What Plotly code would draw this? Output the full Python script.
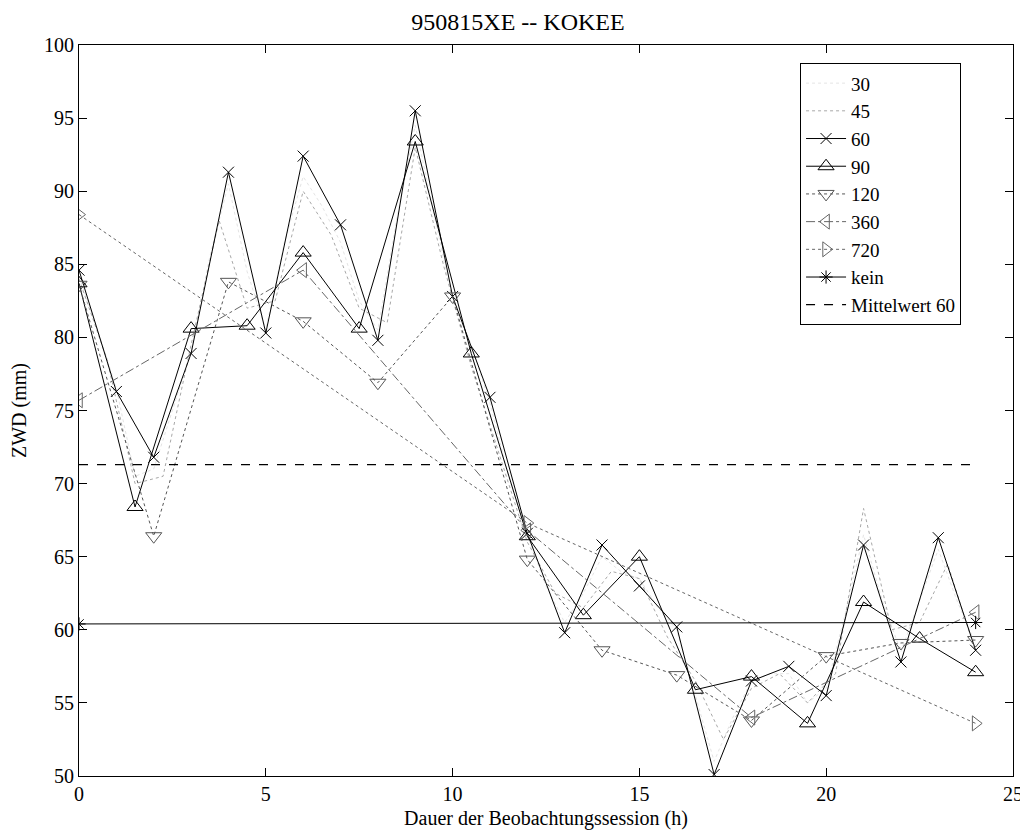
import plotly.graph_objects as go

# ---- data ----
t30 = [i * 0.5 for i in range(49)]
zwd30 = [84.2, 80.5, 76.5, 70.5, 71.0, 75.0, 79.0, 85.5, 90.5, 84.5, 80.5, 86.5, 91.0, 89.0,
         86.5, 82.5, 80.5, 88.0, 94.5, 88.5, 82.5, 79.5, 75.5, 70.5, 66.5, 63.0, 60.5, 62.5,
         65.0, 64.0, 63.5, 61.5, 60.0, 55.5, 51.0, 54.0, 56.5, 57.0, 57.0, 55.0, 56.0, 61.0,
         66.5, 62.0, 58.5, 62.0, 65.5, 62.0, 59.0]

t45 = [i * 0.75 for i in range(33)]
zwd45 = [84.0, 78.5, 70.0, 70.5, 79.5, 88.0, 82.0, 82.5, 90.0, 87.0, 82.0, 81.0, 93.0, 85.0,
         78.0, 72.0, 66.0, 62.5, 61.5, 64.0, 63.5, 59.5, 56.5, 52.5, 56.0, 57.0, 55.0, 57.0,
         68.3, 60.0, 60.5, 64.5, 58.5]

t60 = list(range(25))
zwd60 = [84.6, 76.3, 71.8, 78.9, 91.3, 80.3, 92.4, 87.7, 79.8, 95.5, 82.8, 75.9, 66.6, 59.8,
         65.8, 63.0, 60.2, 50.1, 56.5, 57.5, 55.5, 65.8, 57.8, 66.3, 58.6]

t90 = [i * 1.5 for i in range(17)]
zwd90 = [83.7, 68.4, 80.6, 80.8, 85.8, 80.6, 93.4, 78.9, 66.4, 61.0, 65.0, 55.9, 56.8, 53.6,
         61.9, 59.4, 57.1]

t120 = [i * 2 for i in range(13)]
zwd120 = [83.6, 66.4, 83.8, 81.1, 76.9, 82.8, 64.8, 58.6, 56.9, 53.8, 58.2, 59.1, 59.3]

t360 = [0, 6, 12, 18, 24]
zwd360 = [75.7, 84.6, 66.8, 54.0, 61.2]

t720 = [0, 12, 24]
zwd720 = [88.4, 67.3, 53.6]

t_kein = [0, 24]
zwd_kein = [60.4, 60.5]

t_mean = [0, 24]
zwd_mean = [71.3, 71.3]

title = "950815XE -- KOKEE"
xlabel = "Dauer der Beobachtungssession (h)"
ylabel = "ZWD (mm)"

font = "Liberation Serif, Times New Roman, serif"

fig = go.Figure()

def add(x, y, name, color, dash, symbol=None, width=1, msize=9):
    mode = "lines+markers" if symbol else "lines"
    fig.add_trace(go.Scatter(
        x=x, y=y, name=name, mode=mode,
        line=dict(color=color, dash=dash, width=width),
        marker=dict(symbol=symbol or "circle", size=msize, color=color,
                    line=dict(color=color, width=1)),
    ))

add(t30, zwd30, "30", "#e4e4e4", "dot")
add(t45, zwd45, "45", "#a8a8a8", "dot")
add(t60, zwd60, "60", "#000000", "solid", "x-thin-open", msize=11)
add(t90, zwd90, "90", "#000000", "solid", "triangle-up-open", msize=14)
add(t120, zwd120, "120", "#555555", "dot", "triangle-down-open", msize=14)
add(t360, zwd360, "360", "#666666", "dashdot", "triangle-left-open", msize=13)
add(t720, zwd720, "720", "#666666", "dot", "triangle-right-open", msize=13)
add(t_kein, zwd_kein, "kein", "#000000", "solid", "asterisk-open", msize=11)
add(t_mean, zwd_mean, "Mittelwert 60", "#000000", "dash", width=1.3)

axis_common = dict(
    showline=True, linecolor="black", linewidth=1, mirror="ticks",
    ticks="inside", ticklen=8, tickcolor="black",
    showgrid=False, zeroline=False, automargin=False,
    tickfont=dict(family=font, size=20, color="black"),
)

# page body has an 8px margin, so the figure is laid out 8px in from the window edge
fig.update_layout(
    width=1020, height=826,
    margin=dict(l=71, r=15, t=37, b=58),
    paper_bgcolor="white", plot_bgcolor="white",
    title=dict(text=title, x=0.5, xanchor="center", y=0.984, yanchor="middle",
               font=dict(family=font, size=24, color="black")),
    xaxis=dict(range=[0, 25], tickvals=[0, 5, 10, 15, 20, 25],
               title=dict(text=xlabel, font=dict(family=font, size=20, color="black"), standoff=6),
               **axis_common),
    yaxis=dict(range=[50, 100], tickvals=[50, 55, 60, 65, 70, 75, 80, 85, 90, 95, 100],
               title=dict(text=ylabel, font=dict(family=font, size=20, color="black"), standoff=14),
               **axis_common),
    legend=dict(x=0.772, y=0.975, xanchor="left", yanchor="top",
                bgcolor="white", bordercolor="black", borderwidth=1,
                font=dict(family=font, size=19, color="black"),
                itemwidth=40, tracegroupgap=0),
    showlegend=True,
)

fig.write_html("out.html")
